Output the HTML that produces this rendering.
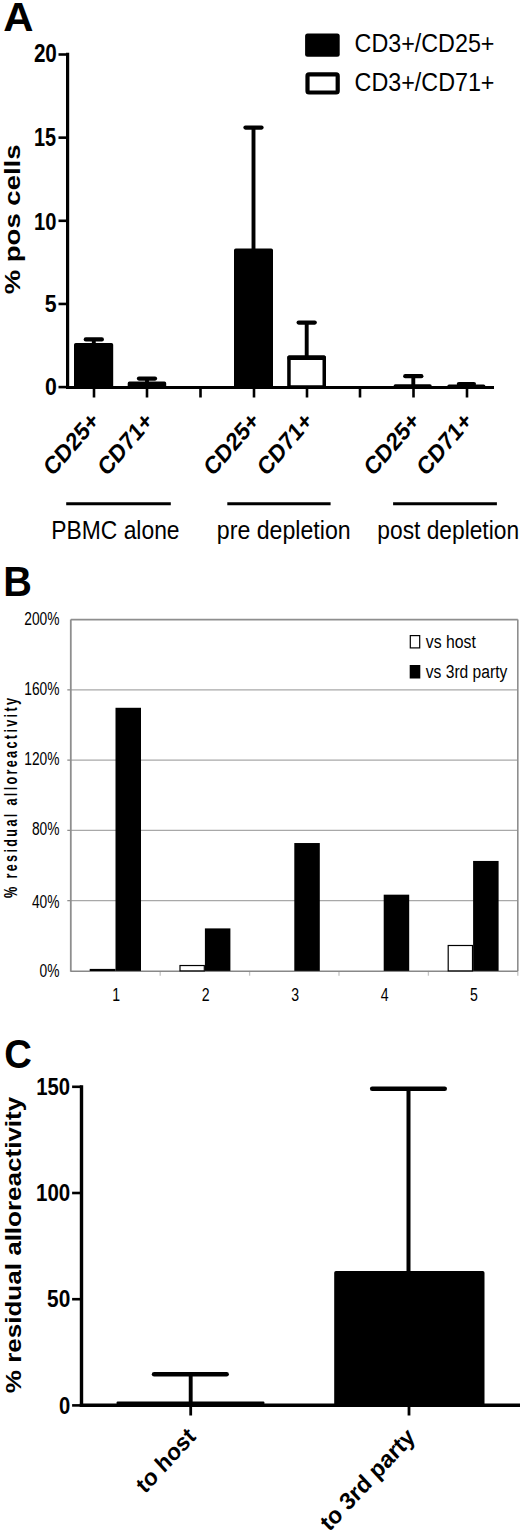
<!DOCTYPE html>
<html><head><meta charset="utf-8"><style>
html,body{margin:0;padding:0;background:#fff;}
body{width:520px;height:1532px;overflow:hidden;}
svg{display:block;}
text{font-family:"Liberation Sans",sans-serif;font-kerning:none;fill:#000;}
</style></head><body>
<svg width="520" height="1532" viewBox="0 0 520 1532">
<rect width="520" height="1532" fill="#fff"/>
<text transform="translate(3.16,30.80) scale(1.0111,1)" font-size="41.43" font-weight="700">A</text>
<line x1="67.6" y1="52.8" x2="67.6" y2="388.6" stroke="#000" stroke-width="3.2" stroke-linecap="butt"/>
<line x1="58.5" y1="54.5" x2="67.6" y2="54.5" stroke="#000" stroke-width="2.6" stroke-linecap="butt"/>
<line x1="58.5" y1="137.65000000000003" x2="67.6" y2="137.65000000000003" stroke="#000" stroke-width="2.6" stroke-linecap="butt"/>
<line x1="58.5" y1="220.8" x2="67.6" y2="220.8" stroke="#000" stroke-width="2.6" stroke-linecap="butt"/>
<line x1="58.5" y1="303.95000000000005" x2="67.6" y2="303.95000000000005" stroke="#000" stroke-width="2.6" stroke-linecap="butt"/>
<line x1="58.5" y1="387.1" x2="67.6" y2="387.1" stroke="#000" stroke-width="2.6" stroke-linecap="butt"/>
<text transform="translate(33.88,61.85) scale(0.8120,1)" font-size="25.42" font-weight="700">20</text>
<text transform="translate(34.05,146.05) scale(0.7879,1)" font-size="25.22" font-weight="700">15</text>
<text transform="translate(34.03,229.56) scale(0.8192,1)" font-size="24.58" font-weight="700">10</text>
<text transform="translate(44.74,312.36) scale(0.8592,1)" font-size="24.79" font-weight="700">5</text>
<text transform="translate(45.06,395.06) scale(0.8691,1)" font-size="24.43" font-weight="700">0</text>
<text transform="translate(20.20,294.28) rotate(-90) scale(1.2151,1)" font-size="22.64" font-weight="700">% pos cells</text>
<line x1="66.0" y1="387.4" x2="494" y2="387.4" stroke="#000" stroke-width="3" stroke-linecap="butt"/>
<line x1="94" y1="387.1" x2="94" y2="397.5" stroke="#000" stroke-width="2.6" stroke-linecap="butt"/>
<line x1="147" y1="387.1" x2="147" y2="397.5" stroke="#000" stroke-width="2.6" stroke-linecap="butt"/>
<line x1="200.5" y1="387.1" x2="200.5" y2="397.5" stroke="#000" stroke-width="2.6" stroke-linecap="butt"/>
<line x1="254" y1="387.1" x2="254" y2="397.5" stroke="#000" stroke-width="2.6" stroke-linecap="butt"/>
<line x1="307" y1="387.1" x2="307" y2="397.5" stroke="#000" stroke-width="2.6" stroke-linecap="butt"/>
<line x1="360" y1="387.1" x2="360" y2="397.5" stroke="#000" stroke-width="2.6" stroke-linecap="butt"/>
<line x1="413.5" y1="387.1" x2="413.5" y2="397.5" stroke="#000" stroke-width="2.6" stroke-linecap="butt"/>
<line x1="467" y1="387.1" x2="467" y2="397.5" stroke="#000" stroke-width="2.6" stroke-linecap="butt"/>
<line x1="93.8" y1="343" x2="93.8" y2="339.4" stroke="#000" stroke-width="3.9" stroke-linecap="butt"/>
<line x1="85.75" y1="339.4" x2="101.85" y2="339.4" stroke="#000" stroke-width="4.2" stroke-linecap="round"/>
<rect x="75.75" y="344.75" width="35.70" height="42.35" fill="#000" stroke="#000" stroke-width="3.5" stroke-linejoin="round"/>
<line x1="147" y1="382" x2="147" y2="378.6" stroke="#000" stroke-width="3.9" stroke-linecap="butt"/>
<line x1="138.95" y1="378.6" x2="155.05" y2="378.6" stroke="#000" stroke-width="4.2" stroke-linecap="round"/>
<rect x="129.45" y="383.25" width="35.00" height="3.85" fill="#000" stroke="#000" stroke-width="3.5" stroke-linejoin="round"/>
<line x1="253.5" y1="249" x2="253.5" y2="127.6" stroke="#000" stroke-width="3.9" stroke-linecap="butt"/>
<line x1="245.45" y1="127.6" x2="261.55" y2="127.6" stroke="#000" stroke-width="4.2" stroke-linecap="round"/>
<rect x="235.75" y="250.35" width="35.50" height="136.75" fill="#000" stroke="#000" stroke-width="3.5" stroke-linejoin="round"/>
<line x1="306.7" y1="356" x2="306.7" y2="322.6" stroke="#000" stroke-width="3.9" stroke-linecap="butt"/>
<line x1="298.65" y1="322.6" x2="314.75" y2="322.6" stroke="#000" stroke-width="4.2" stroke-linecap="round"/>
<rect x="288.95" y="357.15" width="35.30" height="29.95" fill="#fff" stroke="#000" stroke-width="3.5" stroke-linejoin="round"/>
<rect x="287.5" y="355.4" width="38.2" height="4.7" rx="1.5" fill="#000"/>
<line x1="413.3" y1="385" x2="413.3" y2="376.2" stroke="#000" stroke-width="3.9" stroke-linecap="butt"/>
<line x1="405.25" y1="376.2" x2="421.35" y2="376.2" stroke="#000" stroke-width="4.2" stroke-linecap="round"/>
<rect x="395.35" y="385.95" width="34.60" height="1.15" fill="#000" stroke="#000" stroke-width="3.5" stroke-linejoin="round"/>
<line x1="466.4" y1="385" x2="466.4" y2="384.0" stroke="#000" stroke-width="3.9" stroke-linecap="butt"/>
<line x1="458.84999999999997" y1="384.0" x2="473.95" y2="384.0" stroke="#000" stroke-width="4.2" stroke-linecap="round"/>
<rect x="449.05" y="386.35" width="34.60" height="0.75" fill="#000" stroke="#000" stroke-width="3.5" stroke-linejoin="round"/>
<rect x="305.1" y="33.5" width="34.6" height="23.3" rx="2.5" fill="#000"/>
<rect x="307.5" y="74.4" width="30.2" height="18.1" rx="1.5" fill="#fff" stroke="#000" stroke-width="4.2"/>
<text transform="translate(354.62,52.40) scale(0.9177,1)" font-size="25.40" font-weight="400">CD3+/CD25+</text>
<text transform="translate(354.62,91.00) scale(0.9106,1)" font-size="25.60" font-weight="400">CD3+/CD71+</text>
<text transform="translate(52.55,477.33) scale(0.8671,1) rotate(-45)" font-size="24.85" font-weight="700">CD25+</text>
<text transform="translate(106.69,477.33) scale(0.8602,1) rotate(-45)" font-size="24.85" font-weight="700">CD71+</text>
<text transform="translate(212.75,477.33) scale(0.8671,1) rotate(-45)" font-size="24.85" font-weight="700">CD25+</text>
<text transform="translate(266.29,477.33) scale(0.8602,1) rotate(-45)" font-size="24.85" font-weight="700">CD71+</text>
<text transform="translate(373.05,477.33) scale(0.8671,1) rotate(-45)" font-size="24.85" font-weight="700">CD25+</text>
<text transform="translate(425.79,477.33) scale(0.8602,1) rotate(-45)" font-size="24.85" font-weight="700">CD71+</text>
<line x1="66.2" y1="503.7" x2="170.8" y2="503.7" stroke="#000" stroke-width="3" stroke-linecap="butt"/>
<line x1="227.3" y1="503.7" x2="330.6" y2="503.7" stroke="#000" stroke-width="3" stroke-linecap="butt"/>
<line x1="393.1" y1="503.7" x2="496.9" y2="503.7" stroke="#000" stroke-width="3" stroke-linecap="butt"/>
<text transform="translate(51.33,539.20) scale(0.8591,1)" font-size="26.60" font-weight="400">PBMC alone</text>
<text transform="translate(216.81,539.20) scale(0.8705,1)" font-size="26.60" font-weight="400">pre depletion</text>
<text transform="translate(377.33,539.20) scale(0.8557,1)" font-size="26.60" font-weight="400">post depletion</text>
<text transform="translate(3.15,595.80) scale(0.9446,1)" font-size="42.01" font-weight="700">B</text>
<line x1="70.8" y1="900.64" x2="517.8" y2="900.64" stroke="#a8a8a8" stroke-width="1.4" stroke-linecap="butt"/>
<line x1="70.8" y1="830.38" x2="517.8" y2="830.38" stroke="#a8a8a8" stroke-width="1.4" stroke-linecap="butt"/>
<line x1="70.8" y1="760.12" x2="517.8" y2="760.12" stroke="#a8a8a8" stroke-width="1.4" stroke-linecap="butt"/>
<line x1="70.8" y1="689.86" x2="517.8" y2="689.86" stroke="#a8a8a8" stroke-width="1.4" stroke-linecap="butt"/>
<line x1="67.3" y1="900.64" x2="70.8" y2="900.64" stroke="#8e8e8e" stroke-width="1.3" stroke-linecap="butt"/>
<line x1="67.3" y1="830.38" x2="70.8" y2="830.38" stroke="#8e8e8e" stroke-width="1.3" stroke-linecap="butt"/>
<line x1="67.3" y1="760.12" x2="70.8" y2="760.12" stroke="#8e8e8e" stroke-width="1.3" stroke-linecap="butt"/>
<line x1="67.3" y1="689.86" x2="70.8" y2="689.86" stroke="#8e8e8e" stroke-width="1.3" stroke-linecap="butt"/>
<line x1="70.8" y1="619.6" x2="517.8" y2="619.6" stroke="#8e8e8e" stroke-width="1.6" stroke-linecap="butt"/>
<line x1="517.8" y1="619.6" x2="517.8" y2="970.9" stroke="#8e8e8e" stroke-width="1.6" stroke-linecap="butt"/>
<line x1="70.8" y1="619.6" x2="70.8" y2="971.6999999999999" stroke="#8e8e8e" stroke-width="1.8" stroke-linecap="butt"/>
<line x1="160.2" y1="970.9" x2="160.2" y2="975.6999999999999" stroke="#c4c4c4" stroke-width="1.3" stroke-linecap="butt"/>
<line x1="249.59999999999997" y1="970.9" x2="249.59999999999997" y2="975.6999999999999" stroke="#c4c4c4" stroke-width="1.3" stroke-linecap="butt"/>
<line x1="339.0" y1="970.9" x2="339.0" y2="975.6999999999999" stroke="#c4c4c4" stroke-width="1.3" stroke-linecap="butt"/>
<line x1="428.4" y1="970.9" x2="428.4" y2="975.6999999999999" stroke="#c4c4c4" stroke-width="1.3" stroke-linecap="butt"/>
<line x1="517.8" y1="970.9" x2="517.8" y2="975.6999999999999" stroke="#c4c4c4" stroke-width="1.3" stroke-linecap="butt"/>
<line x1="70.8" y1="971.1999999999999" x2="517.8" y2="971.1999999999999" stroke="#888" stroke-width="1.6" stroke-linecap="butt"/>
<rect x="89.70" y="968.90" width="25.80" height="2.10" fill="#000"/>
<rect x="115.50" y="707.78" width="25.50" height="263.12" fill="#000"/>
<rect x="180.00" y="965.53" width="24.30" height="5.37" fill="#fff" stroke="#000" stroke-width="1.2"/>
<rect x="204.90" y="928.39" width="25.50" height="42.51" fill="#000"/>
<rect x="294.30" y="843.03" width="25.50" height="127.87" fill="#000"/>
<rect x="383.70" y="894.67" width="25.50" height="76.23" fill="#000"/>
<rect x="448.20" y="945.50" width="24.30" height="25.40" fill="#fff" stroke="#000" stroke-width="1.2"/>
<rect x="473.10" y="860.94" width="25.50" height="109.96" fill="#000"/>
<text transform="translate(24.24,625.10) scale(0.7700,1)" font-size="17.90" font-weight="400">200%</text>
<text transform="translate(24.24,695.00) scale(0.7700,1)" font-size="17.90" font-weight="400">160%</text>
<text transform="translate(24.24,765.00) scale(0.7700,1)" font-size="17.90" font-weight="400">120%</text>
<text transform="translate(31.91,835.40) scale(0.7700,1)" font-size="17.90" font-weight="400">80%</text>
<text transform="translate(31.91,907.90) scale(0.7700,1)" font-size="17.90" font-weight="400">40%</text>
<text transform="translate(39.57,977.00) scale(0.7700,1)" font-size="17.90" font-weight="400">0%</text>
<text transform="translate(17.05,897.92) rotate(-90) scale(0.7200,1)" font-size="17.60" font-weight="700" letter-spacing="3.217">% residual alloreactivity</text>
<text transform="translate(112.19,1001.11) scale(0.8000,1)" font-size="17.60" font-weight="400">1</text>
<text transform="translate(201.78,1001.29) scale(0.8000,1)" font-size="17.60" font-weight="400">2</text>
<text transform="translate(291.23,1001.29) scale(0.8000,1)" font-size="17.60" font-weight="400">3</text>
<text transform="translate(380.63,1001.11) scale(0.8000,1)" font-size="17.60" font-weight="400">4</text>
<text transform="translate(470.00,1001.11) scale(0.8000,1)" font-size="17.60" font-weight="400">5</text>
<rect x="410.3" y="635.6" width="9.4" height="12.3" fill="#fff" stroke="#000" stroke-width="1.2"/>
<rect x="409.70" y="665.00" width="10.60" height="13.50" fill="#000"/>
<text transform="translate(425.75,648.41) scale(0.8291,1)" font-size="19.06" font-weight="400">vs host</text>
<text transform="translate(425.75,678.13) scale(0.8366,1)" font-size="18.67" font-weight="400">vs 3rd party</text>
<text transform="translate(4.23,1068.10) scale(0.9368,1)" font-size="40.82" font-weight="700">C</text>
<line x1="81.5" y1="1085.2" x2="81.5" y2="1407" stroke="#000" stroke-width="3.4" stroke-linecap="butt"/>
<line x1="72.1" y1="1086.8" x2="81.5" y2="1086.8" stroke="#000" stroke-width="2.6" stroke-linecap="butt"/>
<line x1="72.1" y1="1193.0" x2="81.5" y2="1193.0" stroke="#000" stroke-width="2.6" stroke-linecap="butt"/>
<line x1="72.1" y1="1299.2" x2="81.5" y2="1299.2" stroke="#000" stroke-width="2.6" stroke-linecap="butt"/>
<line x1="72.1" y1="1405.4" x2="81.5" y2="1405.4" stroke="#000" stroke-width="2.6" stroke-linecap="butt"/>
<text transform="translate(36.22,1094.96) scale(0.8390,1)" font-size="24.15" font-weight="700">150</text>
<text transform="translate(36.01,1201.48) scale(0.8912,1)" font-size="23.02" font-weight="700">100</text>
<text transform="translate(47.06,1306.97) scale(0.8686,1)" font-size="24.01" font-weight="700">50</text>
<text transform="translate(59.00,1413.76) scale(0.8309,1)" font-size="24.29" font-weight="700">0</text>
<text transform="translate(20.68,1393.15) rotate(-90) scale(1.1445,1)" font-size="22.74" font-weight="700">% residual alloreactivity</text>
<line x1="79.8" y1="1405.2" x2="520" y2="1405.2" stroke="#000" stroke-width="3.6" stroke-linecap="butt"/>
<line x1="190.7" y1="1405" x2="190.7" y2="1415.5" stroke="#000" stroke-width="2.8" stroke-linecap="butt"/>
<line x1="409" y1="1405" x2="409" y2="1415.5" stroke="#000" stroke-width="2.8" stroke-linecap="butt"/>
<rect x="116.6" y="1401.5" width="147.8" height="5.2" rx="1" fill="#000"/>
<line x1="190.7" y1="1405" x2="190.7" y2="1374.2" stroke="#000" stroke-width="3.9" stroke-linecap="butt"/>
<line x1="154.1" y1="1374.2" x2="226.6" y2="1374.2" stroke="#000" stroke-width="4.6" stroke-linecap="round"/>
<line x1="408.5" y1="1272" x2="408.5" y2="1088.8" stroke="#000" stroke-width="4.0" stroke-linecap="butt"/>
<line x1="372.2" y1="1088.8" x2="444.7" y2="1088.8" stroke="#000" stroke-width="4.6" stroke-linecap="round"/>
<rect x="336" y="1272.8" width="146.7" height="132" fill="#000" stroke="#000" stroke-width="3.6" stroke-linejoin="round"/>
<text transform="translate(145.05,1494.40) scale(0.9188,1) rotate(-45)" font-size="23.96" font-weight="700">to host</text>
<text transform="translate(329.20,1532.32) scale(0.9289,1) rotate(-45)" font-size="24.14" font-weight="700">to 3rd party</text>
</svg>
</body></html>
